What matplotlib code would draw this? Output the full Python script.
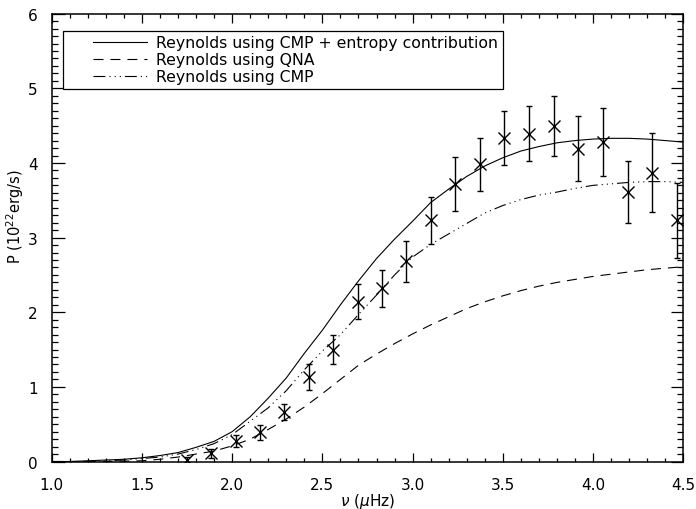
import numpy as np
import matplotlib
matplotlib.use('Agg')
import matplotlib.pyplot as plt
from matplotlib.ticker import MultipleLocator, FormatStrFormatter
from matplotlib.legend_handler import HandlerLine2D

plt.rcParams['font.family'] = ['DejaVu Sans']
plt.rcParams['mathtext.fontset'] = 'dejavusans'
plt.rcParams['lines.scale_dashes'] = False

# observed points
nu_obs = [1.750, 1.883, 2.021, 2.154, 2.287, 2.425, 2.557, 2.695, 2.828, 2.963, 3.101,
          3.234, 3.373, 3.507, 3.644, 3.781, 3.916, 4.053, 4.191, 4.327, 4.466]
p_obs = [0.02, 0.11, 0.27, 0.39, 0.66, 1.13, 1.50, 2.14, 2.32, 2.68, 3.23,
         3.72, 3.98, 4.33, 4.39, 4.50, 4.19, 4.28, 3.61, 3.87, 3.23]
p_err = [0.04, 0.06, 0.08, 0.10, 0.11, 0.17, 0.19, 0.235, 0.245, 0.27, 0.31,
         0.36, 0.36, 0.36, 0.37, 0.40, 0.435, 0.45, 0.42, 0.53, 0.50]

# model curves
nu_mod = [1.0, 1.1, 1.2, 1.3, 1.4, 1.5, 1.6, 1.7, 1.8, 1.9, 2.0, 2.1, 2.2, 2.3, 2.4, 2.5, 2.6, 2.7,
          2.8, 2.9, 3.0, 3.1, 3.2, 3.3, 3.4, 3.5, 3.6, 3.7, 3.8, 3.9, 4.0, 4.1, 4.2, 4.3, 4.4, 4.5]
p_entropy = [0.0, 0.0, 0.01, 0.02, 0.03, 0.05, 0.08, 0.12, 0.19, 0.27, 0.40, 0.60, 0.85, 1.12,
             1.45, 1.76, 2.10, 2.42, 2.72, 2.98, 3.22, 3.47, 3.65, 3.82, 3.96, 4.07, 4.16,
             4.22, 4.27, 4.30, 4.32, 4.33, 4.33, 4.32, 4.30, 4.28]
p_qna = [0.0, 0.0, 0.0, 0.0, 0.005, 0.01, 0.03, 0.06, 0.10, 0.14, 0.21, 0.30, 0.43, 0.57,
         0.73, 0.91, 1.10, 1.29, 1.44, 1.58, 1.71, 1.83, 1.94, 2.05, 2.14, 2.22, 2.29,
         2.35, 2.40, 2.44, 2.48, 2.51, 2.54, 2.57, 2.59, 2.61]
p_cmp = [0.0, 0.0, 0.0, 0.01, 0.02, 0.04, 0.06, 0.10, 0.16, 0.24, 0.36, 0.54, 0.72, 0.95,
         1.23, 1.48, 1.70, 1.97, 2.23, 2.50, 2.74, 2.91, 3.05, 3.19, 3.33, 3.43, 3.51,
         3.57, 3.61, 3.66, 3.70, 3.72, 3.74, 3.75, 3.75, 3.74]

labels = ['Reynolds using CMP + entropy contribution', 'Reynolds using QNA', 'Reynolds using CMP']


# legend line starts some way into the handle box, like the IDL legend
class IndentHandler(HandlerLine2D):
    def get_xdata(self, legend, xdescent, ydescent, width, height, fontsize):
        x0 = -xdescent + 0.32 * width
        x1 = -xdescent + width
        return [x0, x1], [x0, x1]


fig = plt.figure(figsize=(6.96, 5.10), dpi=100)
ax = fig.add_axes([0.0743, 0.0931, 0.9075, 0.8781])

lw = 0.8
l1, = ax.plot(nu_mod, p_entropy, color='black', lw=lw, label=labels[0])
l2, = ax.plot(nu_mod, p_qna, color='black', lw=lw, dashes=(7.2, 5.0), label=labels[1])
l3, = ax.plot(nu_mod, p_cmp, color='black', lw=lw,
              dashes=(8.6, 2.9, 0.8, 2.9, 0.8, 2.9, 0.8, 2.9), label=labels[2])

ax.errorbar(nu_obs, p_obs, yerr=p_err, fmt='x', color='black', ms=9, mew=1.0,
            elinewidth=1.0, capsize=2.5, capthick=1.0)

ax.set_xlim(1.0, 4.5)
ax.set_ylim(0, 6)
ax.xaxis.set_major_locator(MultipleLocator(0.5))
ax.xaxis.set_minor_locator(MultipleLocator(0.1))
ax.yaxis.set_major_locator(MultipleLocator(1))
ax.yaxis.set_minor_locator(MultipleLocator(0.1))
ax.xaxis.set_major_formatter(FormatStrFormatter('%.1f'))

ax.tick_params(axis='both', which='both', direction='in', top=True, right=True,
               labelsize=11, width=0.9)
ax.tick_params(axis='x', which='major', length=6.5, pad=11)
ax.tick_params(axis='x', which='minor', length=3.2)
ax.tick_params(axis='y', which='major', length=9, pad=10)
ax.tick_params(axis='y', which='minor', length=4.5)
for s in ax.spines.values():
    s.set_linewidth(1.1)

ax.set_xlabel(r'$\nu$ ($\mu$Hz)', fontsize=11)
ax.xaxis.set_label_coords(0.5, -0.086)
ax.xaxis.label.set_va('center')
ax.set_ylabel(r'P (10$^{22}$erg/s)', fontsize=10.5)
ax.yaxis.set_label_coords(-0.058, 0.548)
ax.yaxis.label.set_va('center')

leg = ax.legend(handles=[l1, l2, l3], loc='upper left', bbox_to_anchor=(0.0184, 0.962),
                borderaxespad=0, fontsize=11.3, handlelength=5.0, handletextpad=0.62,
                labelspacing=0.12, borderpad=0.3, fancybox=False, framealpha=1,
                edgecolor='black', handler_map={matplotlib.lines.Line2D: IndentHandler()})
leg.get_frame().set_linewidth(0.9)

fig.savefig('out.png', dpi=100)
